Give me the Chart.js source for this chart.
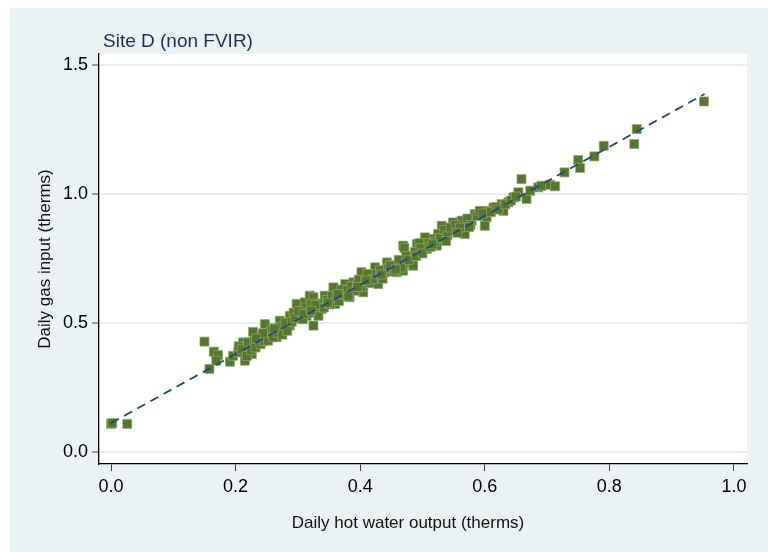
<!DOCTYPE html>
<html>
<head>
<meta charset="utf-8">
<script src="https://cdn.jsdelivr.net/npm/chart.js@4/dist/chart.umd.min.js"></script>
<style>
  html, body { margin: 0; padding: 0; background: #ffffff; }
  #wrap { position: absolute; left: 10px; top: 8px; width: 758px; height: 544px; background: #eaf2f3; }
  canvas { display: block; }
</style>
</head>
<body>
<div id="wrap"><canvas id="scatterChart" width="758" height="544"></canvas></div>
<script>
// daily observations: hot water output vs gas input (therms)
const hotWater = [
    0.000, 0.002, 0.026, 0.150, 0.165, 0.172, 0.169, 0.158, 0.191, 0.196,
    0.204, 0.212, 0.215, 0.226, 0.228, 0.223, 0.236, 0.242, 0.247, 0.255,
    0.266, 0.271, 0.277, 0.287, 0.287, 0.298, 0.301, 0.311, 0.319, 0.325,
    0.330, 0.469, 0.491, 0.480, 0.464, 0.485, 0.459, 0.443, 0.440, 0.424,
    0.429, 0.418, 0.402, 0.405, 0.389, 0.376, 0.373, 0.357, 0.360, 0.343,
    0.338, 0.325, 0.314, 0.333, 0.654, 0.667, 0.646, 0.638, 0.627, 0.614,
    0.630, 0.606, 0.603, 0.600, 0.584, 0.579, 0.563, 0.549, 0.557, 0.568,
    0.531, 0.525, 0.517, 0.504, 0.495, 0.507, 0.523, 0.471, 0.483, 0.475,
    0.485, 0.469, 0.659, 0.673, 0.686, 0.691, 0.705, 0.713, 0.728, 0.750,
    0.753, 0.776, 0.791, 0.844, 0.840, 0.952,
    0.335, 0.342, 0.347, 0.352, 0.355, 0.362, 0.366, 0.370, 0.375, 0.380,
    0.383, 0.386, 0.392, 0.395, 0.398, 0.402, 0.408, 0.412, 0.415, 0.420,
    0.426, 0.432, 0.436, 0.445, 0.450, 0.454, 0.462, 0.466,
    0.205, 0.210, 0.218, 0.220, 0.225, 0.230, 0.232, 0.238, 0.240, 0.245,
    0.250, 0.252, 0.258, 0.260, 0.263, 0.268, 0.272, 0.275, 0.280, 0.283,
    0.290, 0.293, 0.296, 0.305, 0.308, 0.312, 0.318, 0.322, 0.328,
    0.474, 0.478, 0.488, 0.490, 0.497, 0.500, 0.510, 0.513, 0.520, 0.528,
    0.535, 0.540, 0.545, 0.553, 0.560, 0.572, 0.577, 0.588, 0.592, 0.597,
    0.610, 0.618, 0.622, 0.633, 0.642, 0.650,
    0.348, 0.364, 0.381, 0.396, 0.410, 0.434, 0.448, 0.457, 0.301, 0.309,
    0.321, 0.262, 0.244, 0.233, 0.516, 0.538, 0.556, 0.575
];
const gasInput = [
    0.109, 0.112, 0.109, 0.428, 0.389, 0.376, 0.354, 0.322, 0.350, 0.373,
    0.386, 0.425, 0.354, 0.380, 0.466, 0.412, 0.425, 0.451, 0.496, 0.464,
    0.445, 0.509, 0.477, 0.528, 0.490, 0.574, 0.516, 0.580, 0.606, 0.490,
    0.554, 0.800, 0.806, 0.761, 0.735, 0.735, 0.697, 0.735, 0.697, 0.716,
    0.651, 0.683, 0.697, 0.619, 0.658, 0.651, 0.612, 0.638, 0.574, 0.606,
    0.554, 0.600, 0.528, 0.528, 1.007, 0.981, 0.987, 0.968, 0.961, 0.948,
    0.935, 0.935, 0.910, 0.877, 0.922, 0.897, 0.897, 0.890, 0.858, 0.845,
    0.877, 0.845, 0.826, 0.832, 0.810, 0.787, 0.800, 0.790, 0.755, 0.735,
    0.722, 0.703, 1.058, 1.013, 1.026, 1.032, 1.036, 1.030, 1.084, 1.132,
    1.101, 1.146, 1.187, 1.252, 1.194, 1.359,
    0.575, 0.560, 0.590, 0.572, 0.605, 0.598, 0.585, 0.630, 0.610, 0.628,
    0.600, 0.642, 0.625, 0.650, 0.668, 0.640, 0.662, 0.690, 0.655, 0.670,
    0.690, 0.705, 0.672, 0.712, 0.725, 0.700, 0.745, 0.715,
    0.410, 0.398, 0.372, 0.425, 0.395, 0.430, 0.405, 0.440, 0.418, 0.430,
    0.450, 0.432, 0.470, 0.445, 0.480, 0.462, 0.485, 0.455, 0.500, 0.470,
    0.505, 0.540, 0.520, 0.545, 0.515, 0.560, 0.540, 0.575, 0.570,
    0.760, 0.745, 0.775, 0.760, 0.790, 0.770, 0.810, 0.795, 0.815, 0.830,
    0.860, 0.840, 0.870, 0.880, 0.870, 0.905, 0.880, 0.915, 0.935, 0.925,
    0.930, 0.950, 0.940, 0.960, 0.975, 0.990,
    0.578, 0.612, 0.603, 0.640, 0.665, 0.688, 0.722, 0.708, 0.545, 0.535,
    0.548, 0.478, 0.460, 0.440, 0.805, 0.818, 0.850, 0.872
];

// fitted line end points
const fitX = [0, 0.953];
const fitY = [0.112, 1.388];

const xTicks = [0, 0.2, 0.4, 0.6, 0.8, 1.0];
const yTicks = [0, 0.5, 1.0, 1.5];

const titleText = 'Site D (non FVIR)';
const xTitle = 'Daily hot water output (therms)';
const yTitle = 'Daily gas input (therms)';

const FONT = '"Liberation Sans", Arial, sans-serif';

// white plot region behind the marks
const plotBg = {
    id: 'plotBg',
    beforeDraw(chart) {
        const { ctx, chartArea: a } = chart;
        ctx.save();
        ctx.fillStyle = '#ffffff';
        ctx.fillRect(a.left, a.top, a.right - a.left, a.bottom - a.top);
        ctx.restore();
    }
};

const labelsPlugin = {
    id: 'labels',
    afterDraw(chart) {
        const { ctx, chartArea } = chart;
        ctx.save();
        ctx.font = '19px ' + FONT;
        ctx.fillStyle = '#1e2d5a';
        ctx.textAlign = 'left';
        ctx.textBaseline = 'middle';
        ctx.fillText(titleText, chartArea.left + 4, chartArea.top - 12);

        ctx.font = '17px ' + FONT;
        ctx.fillStyle = '#111';
        ctx.textAlign = 'center';
        ctx.fillText(xTitle, 398, 515);

        ctx.translate(35, (chartArea.top + chartArea.bottom) / 2);
        ctx.rotate(-Math.PI / 2);
        ctx.fillText(yTitle, 0, 0);
        ctx.restore();
    }
};

function initScatter() {
    const ctx = document.getElementById('scatterChart').getContext('2d');
    new Chart(ctx, {
        type: 'scatter',
        data: {
            datasets: [{
                type: 'line',
                data: fitX.map((x, i) => ({ x: x, y: fitY[i] })),
                borderColor: '#1f4a7a',
                borderWidth: 1.8,
                borderDash: [9, 6],
                pointRadius: 0,
                fill: false,
                order: 0
            }, {
                data: hotWater.map((x, i) => ({ x: x, y: gasInput[i] })),
                pointStyle: 'rect',
                pointRadius: 6.4,
                backgroundColor: '#55762c',
                borderColor: '#93a974',
                borderWidth: 0.7,
                order: 1
            }]
        },
        options: {
            responsive: false,
            animation: false,
            layout: { padding: { left: 0, top: 46, right: 21, bottom: 0 } },
            plugins: { legend: { display: false }, tooltip: { enabled: false } },
            scales: {
                x: {
                    min: -0.0193,
                    max: 1.021,
                    afterBuildTicks: (s) => { s.ticks = xTicks.map(v => ({ value: v })); },
                    afterFit: (s) => { s.height = 88; },
                    border: { color: '#000', width: 1.3 },
                    grid: { drawOnChartArea: false, tickLength: 7, tickColor: '#444', tickWidth: 1 },
                    ticks: {
                        font: { family: FONT, size: 18 },
                        color: '#000',
                        padding: 5,
                        callback: (v) => Number(v).toFixed(1)
                    }
                },
                y: {
                    min: -0.0465,
                    max: 1.543,
                    afterBuildTicks: (s) => { s.ticks = yTicks.map(v => ({ value: v })); },
                    afterFit: (s) => { s.width = 89; },
                    border: { color: '#000', width: 1.3 },
                    grid: { color: '#e6eef0', lineWidth: 2, tickLength: 7, tickColor: '#444', tickWidth: 1 },
                    ticks: {
                        font: { family: FONT, size: 18 },
                        color: '#000',
                        padding: 4,
                        callback: (v) => Number(v).toFixed(1)
                    }
                }
            }
        },
        plugins: [plotBg, labelsPlugin]
    });
}

initScatter();
</script>
</body>
</html>
